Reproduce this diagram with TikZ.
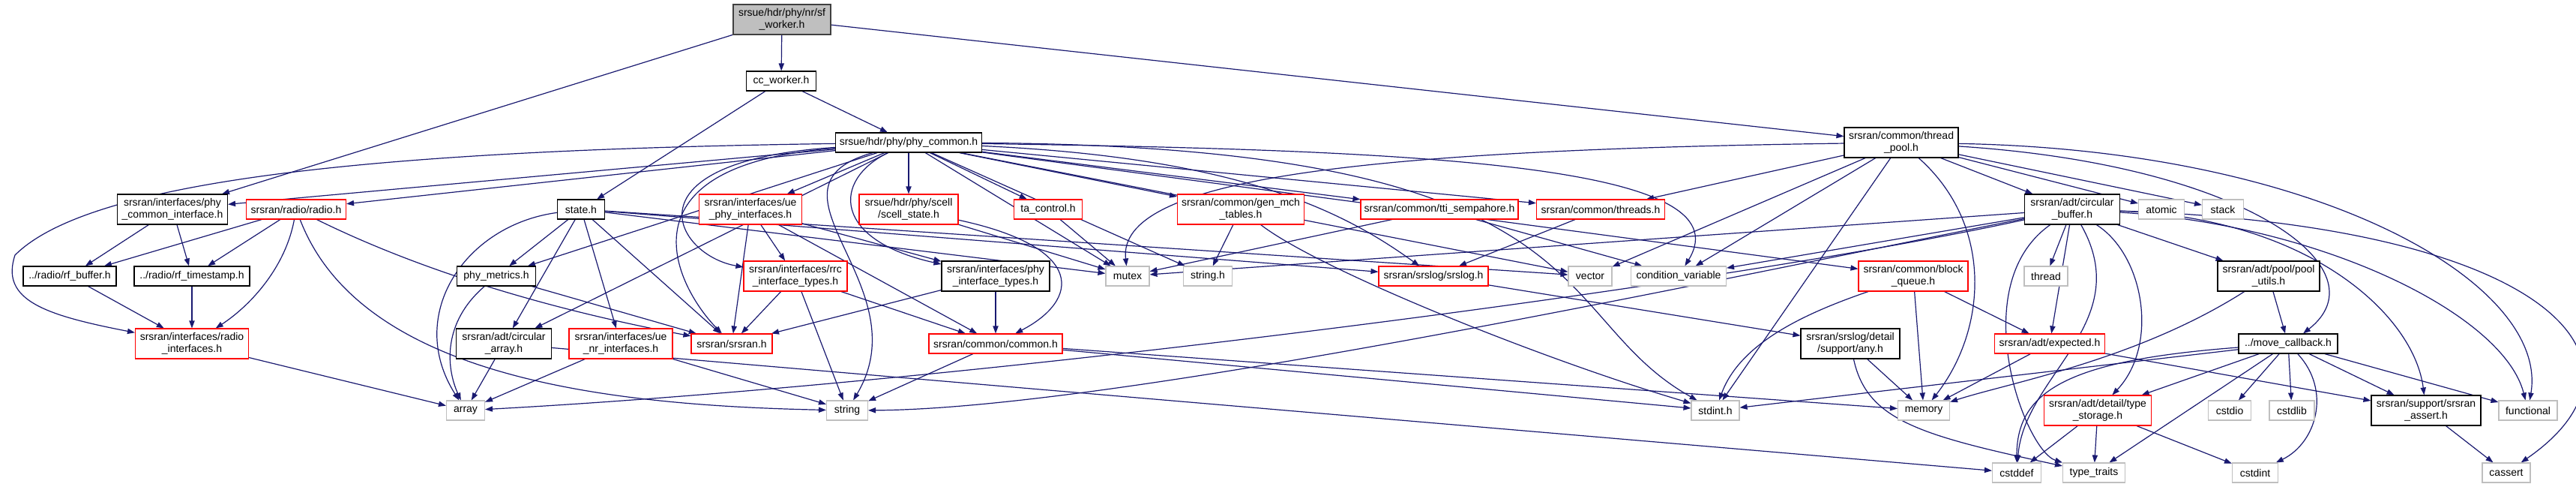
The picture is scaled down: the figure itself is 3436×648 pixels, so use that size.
\documentclass[tikz,border=0pt]{standalone}
\usepackage{fontspec}
\setmainfont{Liberation Sans}
\usetikzlibrary{arrows.meta,backgrounds}
\definecolor{edgecol}{HTML}{191970}
\definecolor{truncred}{HTML}{FF0000}
\definecolor{sysgray}{HTML}{BFBFBF}
\newcommand{\hfont}{\fontsize{7}{7.9}\selectfont}

\begin{document}
\begin{tikzpicture}[x=0.5pt,y=-0.5pt,
  hdr/.style={draw=black,fill=white,line width=0.55pt,align=center,inner sep=0pt,minimum height=13pt,font=\hfont},
  two/.style={minimum height=20pt},
  trunc/.style={hdr,draw=truncred},
  sys/.style={hdr,draw=sysgray},
  root/.style={hdr,fill=sysgray,draw=black!75},
  dep/.style={draw=edgecol,line width=0.6pt,-{Triangle[length=5pt,width=3.6pt]}}]
\useasboundingbox (0,0) rectangle (3436,648);
\node[root,two,minimum width=65pt] (sfw) at (1043,26) {srsue/hdr/phy/nr/sf\\\_worker.h};
\node[hdr,minimum width=46.5pt] (ccw) at (1042,108) {cc\_worker.h};
\node[hdr,minimum width=97.5pt] (pc) at (1212,190) {srsue/hdr/phy/phy\_common.h};
\node[hdr,two,minimum width=76pt] (tp) at (2536,190) {srsran/common/thread\\\_pool.h};
\node[hdr,two,minimum width=73.5pt] (pci) at (230,279) {srsran/interfaces/phy\\\_common\_interface.h};
\node[trunc,minimum width=66.5pt] (radio) at (395,279) {srsran/radio/radio.h};
\node[hdr,minimum width=31.5pt] (state) at (775,279) {state.h};
\node[trunc,two,minimum width=68.5pt] (ueph) at (1001,279) {srsran/interfaces/ue\\\_phy\_interfaces.h};
\node[trunc,two,minimum width=66pt] (scell) at (1212,279) {srsue/hdr/phy/scell\\/scell\_state.h};
\node[trunc,minimum width=45.5pt] (ta) at (1398,279) {ta\_control.h};
\node[trunc,two,minimum width=84.5pt] (genmch) at (1655,279) {srsran/common/gen\_mch\\\_tables.h};
\node[trunc,minimum width=105pt] (tti) at (1920,279) {srsran/common/tti\_sempahore.h};
\node[trunc,minimum width=85.5pt] (threads) at (2135,279) {srsran/common/threads.h};
\node[hdr,two,minimum width=63.5pt] (cbuf) at (2764,279) {srsran/adt/circular\\\_buffer.h};
\node[sys,minimum width=30.5pt] (atomic) at (2883,279) {atomic};
\node[sys,minimum width=27.5pt] (stack) at (2965,279) {stack};
\node[hdr,minimum width=62pt] (rfbuf) at (93,368) {../radio/rf\_buffer.h};
\node[hdr,minimum width=77pt] (rfts) at (256,368) {../radio/rf\_timestamp.h};
\node[hdr,minimum width=52.5pt] (metrics) at (662,368) {phy\_metrics.h};
\node[trunc,two,minimum width=69pt] (rrc) at (1061,368) {srsran/interfaces/rrc\\\_interface\_types.h};
\node[hdr,two,minimum width=72pt] (phyt) at (1328,368) {srsran/interfaces/phy\\\_interface\_types.h};
\node[sys,minimum width=29pt] (mutex) at (1504,368) {mutex};
\node[sys,minimum width=32.5pt] (stringh) at (1611,368) {string.h};
\node[trunc,minimum width=73pt] (srslog) at (1912,368) {srsran/srslog/srslog.h};
\node[sys,minimum width=29pt] (vector) at (2121,368) {vector};
\node[sys,minimum width=63.5pt] (condvar) at (2239,368) {condition\_variable};
\node[trunc,two,minimum width=73pt] (blockq) at (2552,368) {srsran/common/block\\\_queue.h};
\node[sys,minimum width=29pt] (thread) at (2729,368) {thread};
\node[hdr,two,minimum width=68pt] (poolu) at (3026,368) {srsran/adt/pool/pool\\\_utils.h};
\node[trunc,two,minimum width=75.5pt] (radioif) at (256,458) {srsran/interfaces/radio\\\_interfaces.h};
\node[hdr,two,minimum width=63.5pt] (circarr) at (672,458) {srsran/adt/circular\\\_array.h};
\node[trunc,two,minimum width=69pt] (uenr) at (828,458) {srsran/interfaces/ue\\\_nr\_interfaces.h};
\node[trunc,minimum width=54pt] (srsran) at (976,458) {srsran/srsran.h};
\node[trunc,minimum width=89pt] (common) at (1328,458) {srsran/common/common.h};
\node[hdr,two,minimum width=66pt] (any) at (2468,458) {srsran/srslog/detail\\/support/any.h};
\node[trunc,minimum width=73.5pt] (expected) at (2734,458) {srsran/adt/expected.h};
\node[hdr,minimum width=66pt] (movecb) at (3052,458) {../move\_callback.h};
\node[sys,minimum width=25.5pt] (array) at (621,547) {array};
\node[sys,minimum width=27.5pt] (string) at (1130,547) {string};
\node[sys,minimum width=32pt] (stdint) at (2288,547) {stdint.h};
\node[sys,minimum width=34.5pt] (memory) at (2566,547) {memory};
\node[trunc,two,minimum width=71.5pt] (tstor) at (2798,547) {srsran/adt/detail/type\\\_storage.h};
\node[sys,minimum width=28.5pt] (cstdio) at (2974,547) {cstdio};
\node[sys,minimum width=30pt] (cstdlib) at (3057,547) {cstdlib};
\node[hdr,two,minimum width=73pt] (assert) at (3236,547) {srsran/support/srsran\\\_assert.h};
\node[sys,minimum width=39pt] (functional) at (3372,547) {functional};
\node[sys,minimum width=32.5pt] (cstddef) at (2690,630) {cstddef};
\node[sys,minimum width=41.5pt] (ttraits) at (2793,630) {type\_traits};
\node[sys,minimum width=30.5pt] (cstdint) at (3008,630) {cstdint};
\node[sys,minimum width=32pt] (cassert) at (3343,630) {cassert};
\begin{pgfonlayer}{background}
\foreach \a/\b in {sfw/ccw,sfw/pci,sfw/tp,ccw/state,ccw/pc,
  pc/pci,pc/radio,pc/ueph,pc/scell,pc/ta,pc/genmch,pc/tti,pc/threads,pc/blockq,
  pc/mutex,pc/stringh,pc/vector,pc/metrics,pc/circarr,
  state/metrics,state/circarr,state/uenr,state/srsran,state/mutex,state/srslog,state/vector,
  pci/rfbuf,pci/rfts,radio/rfbuf,radio/rfts,rfbuf/radioif,rfts/radioif,radioif/array,
  metrics/srsran,circarr/array,circarr/cstddef,uenr/array,uenr/string,
  ueph/rrc,ueph/srsran,ueph/phyt,ueph/common,rrc/srsran,rrc/string,rrc/common,
  phyt/srsran,phyt/common,scell/mutex,ta/mutex,genmch/stringh,tti/mutex,tti/condvar,
  threads/srslog,srslog/any,common/string,common/stdint,common/memory,
  tp/threads,tp/cbuf,tp/atomic,tp/stack,tp/vector,tp/condvar,tp/stdint,
  cbuf/mutex,cbuf/condvar,cbuf/thread,cbuf/expected,cbuf/poolu,
  blockq/memory,blockq/expected,any/memory,expected/memory,expected/assert,
  poolu/movecb,movecb/stdint,movecb/tstor,movecb/ttraits,movecb/cstdio,movecb/cstdlib,
  movecb/assert,movecb/functional,tstor/cstddef,tstor/ttraits,tstor/cstdint,assert/cassert}
  \draw[dep] (\a) -- (\b);
\draw[dep] (pc) .. controls (500,200) and (120,240) .. (20,340) .. controls (0,400) and (60,420) .. (radioif);
\draw[dep] (pc) .. controls (820,220) and (900,380) .. (srsran);
\draw[dep] (pc) .. controls (830,215) and (900,340) .. (rrc);
\draw[dep] (pc) .. controls (1110,240) and (1110,320) .. (phyt);
\draw[dep] (pc) .. controls (1000,250) and (1230,380) .. (string);
\draw[dep] (pc) .. controls (1650,210) and (1790,280) .. (srslog);
\draw[dep] (pc) .. controls (1900,200) and (2330,220) .. (condvar);
\draw[dep] (pc) .. controls (2150,195) and (2060,420) .. (stdint);
\draw[dep] (state) .. controls (620,300) and (540,420) .. (array);
\draw[dep] (metrics) .. controls (590,430) and (595,490) .. (array);
\draw[dep] (radio) .. controls (380,360) and (330,410) .. (radioif);
\draw[dep] (radio) .. controls (600,380) and (800,425) .. (srsran);
\draw[dep] (radio) .. controls (480,500) and (800,540) .. (string);
\draw[dep] (scell) .. controls (1450,330) and (1440,400) .. (common);
\draw[dep] (genmch) .. controls (1760,360) and (2060,480) .. (stdint);
\draw[dep] (tp) .. controls (1800,200) and (1490,240) .. (mutex);
\draw[dep] (tp) .. controls (2660,300) and (2650,440) .. (memory);
\draw[dep] (tp) .. controls (3000,220) and (3180,360) .. ([xshift=10pt]movecb.north);
\draw[dep] (tp) .. controls (3100,200) and (3400,380) .. (functional);
\draw[dep] (cbuf) .. controls (2300,380) and (1300,510) .. (array);
\draw[dep] (cbuf) .. controls (2350,360) and (1500,545) .. (string);
\draw[dep] (cbuf) .. controls (2860,340) and (2880,460) .. (tstor);
\draw[dep] (cbuf) .. controls (3080,290) and (3220,420) .. (assert);
\draw[dep] (cbuf) .. controls (3100,300) and (3340,420) .. (functional);
\draw[dep] (cbuf) .. controls (3400,300) and (3560,480) .. (cassert);
\draw[dep] (cbuf) .. controls (2620,380) and (2700,600) .. (ttraits);
\draw[dep] (cbuf) .. controls (2850,430) and (2700,500) .. (cstddef);
\draw[dep] (blockq) .. controls (2400,420) and (2320,460) .. (stdint);
\draw[dep] (any) .. controls (2490,560) and (2560,580) .. (ttraits);
\draw[dep] (poolu) .. controls (2850,480) and (2680,510) .. (memory);
\draw[dep] (movecb) .. controls (2760,480) and (2690,520) .. (cstddef);
\draw[dep] (movecb) .. controls (3110,520) and (3090,590) .. (cstdint);
\end{pgfonlayer}
\end{tikzpicture}
\end{document}
